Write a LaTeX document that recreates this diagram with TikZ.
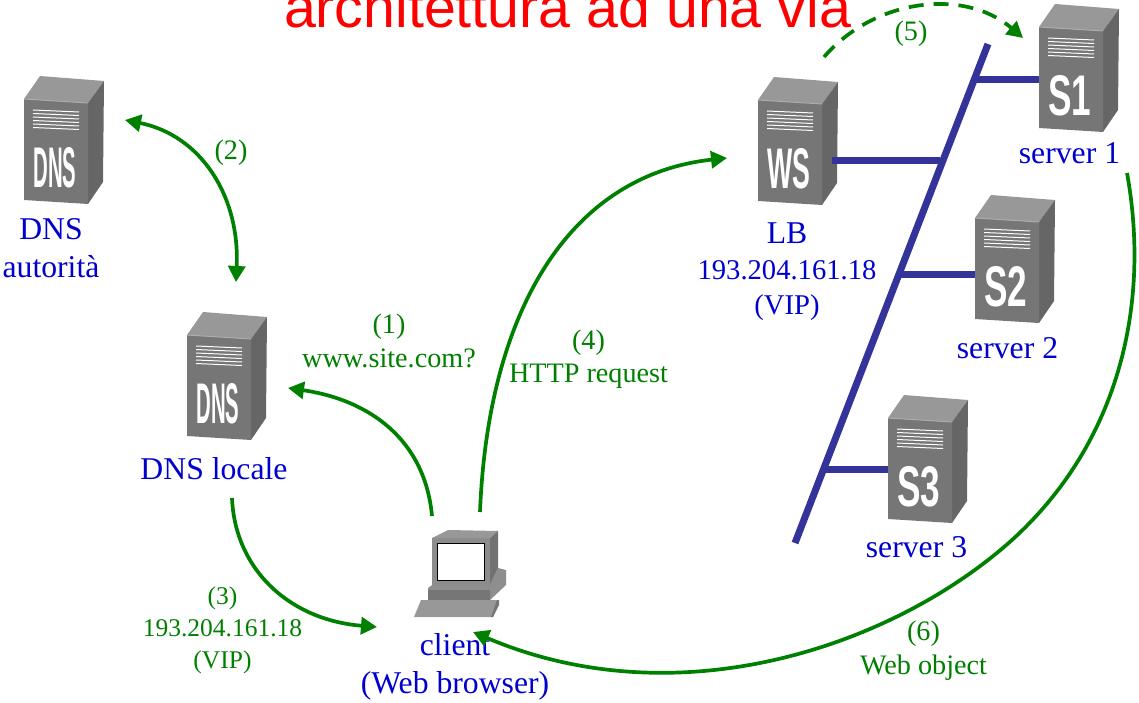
\documentclass[tikz,border=0pt]{standalone}
\usepackage{fontspec}
\usepackage{graphicx}
\setmainfont{Liberation Serif}
\newfontfamily\titlefont{Liberation Sans}
\usepackage{xcolor}
\definecolor{netgreen}{RGB}{0,128,0}
\definecolor{netblue}{RGB}{0,0,204}
\definecolor{busblue}{RGB}{51,51,153}
\usetikzlibrary{arrows.meta}
\tikzstyle{titletext} = [text=red, anchor=base, font=\titlefont\fontsize{57.3}{60}\selectfont]
\tikzstyle{nametext} = [text=netblue, align=center, font=\fontsize{31.7}{38}\selectfont]
\tikzstyle{addrtext} = [text=netblue, align=center, font=\fontsize{28.6}{35}\selectfont]
\tikzstyle{steptext} = [text=netgreen, align=center, font=\fontsize{28.2}{33.5}\selectfont]
\tikzstyle{stepaddr} = [text=netgreen, align=center, font=\fontsize{25.5}{32}\selectfont]
\tikzstyle{arrow} = [->, >={Triangle[length=16pt,width=17pt]}, draw=netgreen, fill=none, line width=3.7pt]
\tikzstyle{bus} = [draw=busblue, line width=7pt]
\tikzstyle{face} = [minimum width=64pt, minimum height=101pt, inner sep=0pt]
\tikzstyle{markbox} = [text=white, inner sep=0pt, font=\titlefont\bfseries\fontsize{40}{40}\selectfont]
\definecolor{srvtop}{RGB}{152,152,152}
\definecolor{srvfront}{RGB}{118,118,118}
\definecolor{srvside}{RGB}{102,102,102}
% server cabinet: name, x, y of the front corner, lettering
\newcommand{\serverbox}[4]{
    \begin{scope}[shift={(#2,#3)}]
        \fill [srvtop] (0,0) -- (16,-23) -- (80,-18) -- (64,4) -- cycle;
        \fill [srvside] (64,4) -- (80,-18) -- (79,83) -- (64,105) -- cycle;
        \fill [srvfront] (0,0) -- (64,4) -- (64,105) -- (0,101) -- cycle;
        \draw [srvtop!80!white, line width=1pt] (0,0) -- (64,4);
        \foreach \v in {11,14.5,...,29} {
            \draw [white, line width=1pt] (9,\v) -- (55,\v+2);
        }
        \node (#1) at (32,52) [face] {};
        \node (#1mark) at (31,69) [markbox] {\resizebox{43pt}{40pt}{#4}};
    \end{scope}
}

\begin{document}
\begin{tikzpicture}[x=1pt,y=-1pt]
    \useasboundingbox (0,0) rectangle (1139,703);

    % title
    \node (title) at (567.5,28) [titletext] {architettura ad una via};

    % servers
    \serverbox{dnsauth}{24}{99}{DNS}
    \serverbox{dnslocal}{187}{335}{DNS}
    \serverbox{ws}{758}{100}{WS}
    \serverbox{sone}{1039}{27}{S1}
    \serverbox{stwo}{975}{218}{S2}
    \serverbox{sthree}{888}{418}{S3}

    % client
    \fill [srvtop!110!white] (428,588) -- (432,585) -- (490,585) -- (498,568) -- (506,570) -- (506,585) -- (490,600) -- (428,600) -- cycle;
    \fill [srvfront] (428,590) rectangle (490,600);
    \fill [srvtop] (432,538) -- (448,530) -- (498,531) -- (490,538) -- cycle;
    \fill [srvtop!75!black] (490,538) -- (498,531) -- (498,568) -- (490,585) -- cycle;
    \fill [srvtop!92!black] (432,538) rectangle (490,585);
    \node (screen) at (460.5,562) [draw=black, fill=white, line width=1pt, minimum width=47pt, minimum height=37pt, inner sep=0pt] {};
    \fill [srvtop] (421,600) -- (499,600) -- (493,617) -- (414,617) -- cycle;
    \fill [srvfront] (497,600) -- (499,600) -- (499,605) -- (493,617) -- (491,617) -- cycle;

    % labels
    \node (dnsauthname) at (51,248) [nametext] {DNS\\autorità};
    \node (dnslocalname) at (214,469) [nametext] {DNS locale};
    \node (lbname) at (787,233) [nametext] {LB};
    \node (lbaddr) at (787,290.5) [addrtext] {193.204.161.18\\(VIP)};
    \node (sonename) at (1069.5,153) [nametext] {server 1};
    \node (stwoname) at (1007.5,348) [nametext] {server 2};
    \node (sthreename) at (916.5,547) [nametext] {server 3};
    \node (clientname) at (455,667) [nametext] {client\\(Web browser)};
    \node (lone) at (389,341) [steptext] {(1)\\www.site.com?};
    \node (ltwo) at (231,153) [steptext] {(2)};
    \node (lthree) at (222.5,630) [stepaddr] {(3)\\193.204.161.18\\(VIP)};
    \node (lfour) at (588.5,359) [steptext] {(4)\\HTTP request};
    \node (lfive) at (911,34) [steptext] {(5)};
    \node (lsix) at (923.5,650.5) [steptext] {(6)\\Web object};

    % network
    \coordinate (bustop) at (988,44);
    \coordinate (busend) at (795,543);
    \coordinate (tapone) at (975,80);
    \coordinate (tapws) at (940,161);
    \coordinate (portws) at (832,161);
    \coordinate (taptwo) at (900,274);
    \coordinate (tapthree) at (825,469);
    \draw [bus] (bustop) to (busend);
    \draw [bus] (tapone) to (tapone -| sone.west);
    \draw [bus] (portws) to (tapws);
    \draw [bus] (taptwo) to (taptwo -| stwo.west);
    \draw [bus] (tapthree) to (tapthree -| sthree.west);

    % arrows
    \coordinate (twoa) at (125,120);
    \coordinate (twob) at (236,282);
    \coordinate (onea) at (432,516);
    \coordinate (oneb) at (288,388);
    \coordinate (foura) at (480,512);
    \coordinate (fourb) at (727,158);
    \coordinate (threea) at (232,498);
    \coordinate (threeb) at (377,627);
    \coordinate (fivea) at (824,57);
    \coordinate (fiveb) at (1023,38);
    \coordinate (sixa) at (1127,173);
    \coordinate (sixm) at (1012,540);
    \coordinate (sixb) at (473,632);
    \draw [arrow,<->] (twoa) .. controls (200,135) and (240,195) .. (twob);
    \draw [arrow] (onea) .. controls (425,440) and (370,400) .. (oneb);
    \draw [arrow] (foura) .. controls (488,310) and (570,175) .. (fourb);
    \draw [arrow] (threea) .. controls (235,570) and (290,620) .. (threeb);
    \draw [arrow,dash pattern=on 15pt off 10pt] (fivea) .. controls (875,-2) and (965,-12) .. (fiveb);
    \draw [arrow] (sixa) .. controls (1150,300) and (1122,440) .. (sixm) .. controls (895,645) and (680,720) .. (sixb);
\end{tikzpicture}
\end{document}
